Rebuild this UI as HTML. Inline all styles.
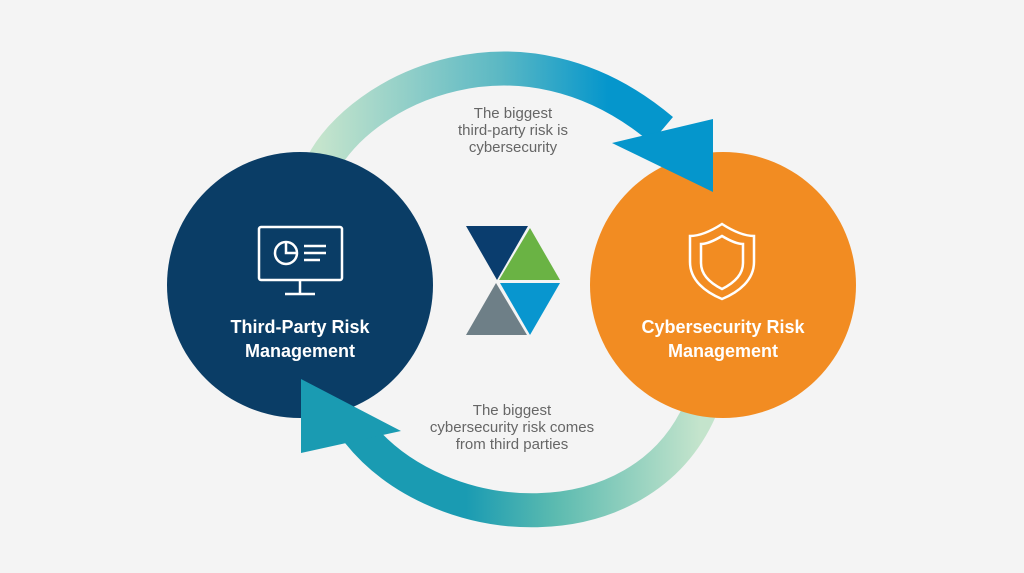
<!DOCTYPE html>
<html><head><meta charset="utf-8"><style>
html,body{margin:0;padding:0;background:#f4f4f4;}
svg{display:block;}
text{font-family:"Liberation Sans",sans-serif;}
</style></head><body>
<svg width="1024" height="573" viewBox="0 0 1024 573">
<defs>
<linearGradient id="g1" x1="320" y1="0" x2="680" y2="0" gradientUnits="userSpaceOnUse">
<stop offset="0" stop-color="#c4e4cc"/><stop offset="0.5" stop-color="#5bb8c4"/><stop offset="0.8" stop-color="#0596cc"/><stop offset="1" stop-color="#0596cc"/>
</linearGradient>
<linearGradient id="g2" x1="340" y1="0" x2="700" y2="0" gradientUnits="userSpaceOnUse">
<stop offset="0" stop-color="#1a9bb2"/><stop offset="0.35" stop-color="#1a9bb2"/><stop offset="0.6" stop-color="#5cbbb0"/><stop offset="1" stop-color="#c4e4cc"/>
</linearGradient>
</defs>
<rect width="1024" height="573" fill="#f4f4f4"/>
<path d="M322 165 C360 90 520 10 662 130" fill="none" stroke="url(#g1)" stroke-width="34"/>
<path d="M700 410 C640 545 440 535 358 432" fill="none" stroke="url(#g2)" stroke-width="34"/>
<circle cx="300" cy="285" r="133" fill="#0a3d66"/>
<circle cx="723" cy="285" r="133" fill="#f28c22"/>
<polygon points="301,379 401,431 301,453" fill="#1a9bb2"/>
<polygon points="612,143 713,119 713,192" fill="#0596cc"/>
<g fill="none" stroke="#fff" stroke-width="2.5">
<rect x="259" y="227" width="83" height="53" rx="2"/>
<line x1="300" y1="280" x2="300" y2="293"/>
<line x1="285" y1="294" x2="315" y2="294"/>
<circle cx="286" cy="253" r="11"/>
<path d="M286 242 V253 H297"/>
<line x1="304" y1="246" x2="326" y2="246"/>
<line x1="304" y1="253" x2="326" y2="253"/>
<line x1="304" y1="260" x2="320" y2="260"/>
</g>
<g fill="none" stroke="#fff" stroke-width="2.5">
<path d="M722 224 C708 233 698 236 690 236 V262 C690 280 705 292 722 299 C739 292 754 280 754 262 V236 C746 236 736 233 722 224 Z"/>
<path d="M722 236 C712 242 706 244 701 244 V263 C701 276 712 284 722 289 C732 284 743 276 743 263 V244 C738 244 732 242 722 236 Z"/>
</g>
<text x="300" y="333" fill="#fff" font-size="18" font-weight="bold" text-anchor="middle">Third-Party Risk</text>
<text x="300" y="357" fill="#fff" font-size="18" font-weight="bold" text-anchor="middle">Management</text>
<text x="723" y="333" fill="#fff" font-size="18" font-weight="bold" text-anchor="middle">Cybersecurity Risk</text>
<text x="723" y="357" fill="#fff" font-size="18" font-weight="bold" text-anchor="middle">Management</text>
<polygon points="466,226 528,226 497,280" fill="#0a3d6e"/>
<polygon points="530,228 560,280 499,280" fill="#6ab344"/>
<polygon points="500,283 560,283 530,335" fill="#0896cf"/>
<polygon points="496,283 527,335 466,335" fill="#6e7f87"/>
<g font-size="15" fill="#666" text-anchor="middle">
<text x="513" y="118">The biggest</text>
<text x="513" y="135">third-party risk is</text>
<text x="513" y="152">cybersecurity</text>
<text x="512" y="415">The biggest</text>
<text x="512" y="432">cybersecurity risk comes</text>
<text x="512" y="449">from third parties</text>
</g>
</svg>
</body></html>
